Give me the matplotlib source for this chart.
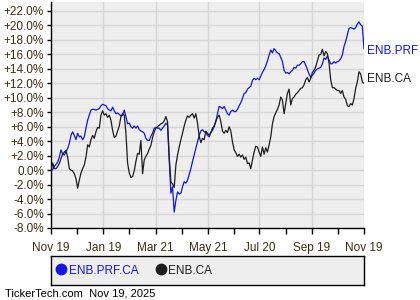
import matplotlib
matplotlib.use("Agg")
import matplotlib.pyplot as plt
from matplotlib.lines import Line2D
import pandas as pd

plt.rcParams['font.family'] = ['Liberation Sans', 'DejaVu Sans']

start_date = "2024-11-19"
end_date = "2025-11-19"

prf_values = [
    -0.2, 0.1, 0.5, 0.8, 1.1, 1.8, 2.8, 2.2, 2.1, 2.5,
    3.0, 3.7, 4.8, 5.3, 4.8, 4.2, 5.1, 4.6, 4.7, 4.2,
    4.6, 5.8, 6.9, 7.6, 8.3, 8.4, 8.4, 8.3, 8.4, 8.5,
    8.9, 9.1, 9.0, 8.9, 8.5, 8.3, 8.2, 8.7, 8.2, 7.8,
    7.9, 7.7, 7.5, 7.6, 8.3, 7.4, 6.4, 6.5, 6.0, 5.8,
    6.1, 5.8, 6.1, 5.6, 5.4, 5.3, 5.1, 4.4, 4.1, 4.1,
    4.7, 5.1, 5.8, 5.9, 5.8, 5.8, 5.5, 5.8, 6.1, 6.5,
    6.2, 1.4, -3.2, -2.3, -5.8, -4.2, -3.0, -3.3, -3.2, -2.3,
    -1.6, -1.8, -1.4, -0.6, 0.2, 1.2, 2.1, 3.0, 3.9, 4.8,
    5.4, 5.6, 5.3, 5.2, 4.8, 4.6, 5.2, 5.5, 6.0, 6.7,
    7.8, 8.8, 8.7, 8.5, 8.8, 8.3, 7.8, 7.6, 8.1, 8.3,
    8.1, 8.1, 8.4, 8.9, 9.3, 9.9, 10.6, 10.7, 11.2, 11.4,
    11.6, 12.4, 12.7, 12.5, 12.7, 12.5, 13.0, 13.5, 13.9, 14.4,
    15.1, 15.9, 16.6, 16.2, 16.8, 16.5, 16.2, 16.1, 15.6, 15.0,
    13.8, 13.4, 13.5, 13.3, 13.6, 13.8, 14.2, 14.1, 14.5, 14.5,
    14.7, 15.0, 15.0, 14.5, 13.9, 13.3, 12.8, 13.1, 13.4, 13.8,
    14.0, 14.1, 14.2, 14.7, 15.5, 15.3, 15.8, 15.2, 14.7, 14.7,
    15.0, 14.8, 15.0, 15.1, 15.4, 15.9, 17.1, 17.8, 18.7, 19.6,
    19.7, 19.6, 19.5, 19.7, 20.2, 20.5, 20.1, 19.9, 16.8,
]

ca_values = [
    -0.2, 1.0, 0.2, 0.2, 0.5, 0.9, 1.6, 2.2, 2.5, 2.7,
    1.8, 0.2, 0.0, -0.1, -0.5, -1.2, -2.5, -1.4, -0.4, 0.2,
    0.7, 1.8, 3.5, 3.2, 4.2, 4.8, 4.4, 5.3, 5.9, 5.8,
    7.6, 8.2, 7.6, 7.8, 7.3, 7.6, 6.9, 5.5, 4.5, 4.7,
    5.4, 6.1, 7.4, 7.8, 7.6, 5.1, 1.0, -0.4, -1.0, -0.9,
    -0.1, 1.2, 2.3, 2.2, 4.1, -0.5, 1.4, 1.9, 2.3, 2.9,
    3.4, 4.5, 5.3, 5.8, 6.0, 6.2, 6.4, 6.5, 6.8, 7.4,
    6.7, 1.8, -1.6, -1.9, -2.4, 0.7, 2.1, 3.2, 4.2, 5.1,
    6.1, 6.9, 7.5, 7.3, 7.6, 7.8, 7.2, 7.8, 6.5, 4.7,
    3.8, 4.4, 4.2, 5.4, 5.1, 4.8, 5.2, 5.8, 6.1, 6.8,
    7.3, 7.6, 6.7, 5.4, 5.1, 5.5, 5.2, 6.0, 5.4, 3.9,
    2.8, 2.4, 1.9, 2.2, 1.8, 2.1, 1.5, 1.8, 0.9, 1.0,
    0.2, 1.4, 2.5, 3.3, 3.2, 2.5, 1.9, 3.2, 2.2, 3.1,
    2.5, 3.5, 4.6, 6.4, 7.4, 7.9, 8.4, 9.0, 10.1, 9.7,
    7.8, 9.2, 10.6, 11.2, 9.0, 9.9, 10.1, 10.5, 10.7, 11.0,
    11.3, 11.4, 11.8, 12.5, 12.8, 12.2, 12.7, 13.5, 13.8, 14.3,
    15.1, 15.9, 16.0, 16.7, 15.8, 16.4, 16.1, 14.8, 12.5, 11.4,
    11.4, 11.2, 11.0, 11.0, 10.6, 11.0, 10.1, 9.8, 8.9, 8.8,
    9.2, 9.0, 9.9, 11.3, 12.2, 13.6, 13.3, 12.2, 12.0,
]

series_names = ["ENB.PRF.CA", "ENB.CA"]
end_labels = ["ENB.PRF", "ENB.CA"]
tick_dates = ["2024-11-19", "2025-01-19", "2025-03-21", "2025-05-21",
              "2025-07-20", "2025-09-19", "2025-11-19"]
tick_labels = ["Nov 19", "Jan 19", "Mar 21", "May 21", "Jul 20", "Sep 19", "Nov 19"]
y_ticks = list(range(-8, 23, 2))
footer = "TickerTech.com  Nov 19, 2025"

blue = "#1414e6"
black = "#1e1e1e"
txt = "#3a2e14"

dates = pd.date_range(start_date, end_date, periods=len(prf_values))

fig = plt.figure(figsize=(4.2, 3.0), dpi=100)
ax = fig.add_axes([51/420, 1-228/300, 313/420, 226/300])
ax.set_facecolor("#eeeeee")

ax.plot(dates, prf_values, color=blue, lw=0.9, zorder=3)
ax.plot(dates, ca_values, color=black, lw=0.9, zorder=3)

ax.set_xlim(pd.Timestamp(start_date), pd.Timestamp(end_date))
ax.set_ylim(-8, 23.24)

td = pd.to_datetime(tick_dates)
ax.set_xticks(td)
ax.set_xticklabels(tick_labels)
mids = td[:-1] + (td[1:] - td[:-1]) / 2
ax.set_xticks(mids, minor=True)
ax.set_yticks(y_ticks)
ax.set_yticklabels([("+" if v > 0 else "") + f"{v:.1f}%" for v in y_ticks])

ax.grid(True, which="major", color="#d6d6d6", lw=1, zorder=0)
ax.set_axisbelow(True)
for s in ["top", "right"]:
    ax.spines[s].set_visible(False)
for s in ["left", "bottom"]:
    ax.spines[s].set_color("black")
    ax.spines[s].set_linewidth(1)

ax.tick_params(axis="y", which="major", length=3, width=1, colors="black",
               labelcolor=txt, labelsize=8.5, pad=2)
ax.tick_params(axis="x", which="both", length=4, width=1, colors="black",
               labelcolor=txt, labelsize=8.5, pad=6)

ax.annotate(end_labels[0], xy=(dates[-1], prf_values[-1]), xytext=(3, -2),
            textcoords="offset pixels", color=blue, fontsize=8.5,
            va="center", ha="left", annotation_clip=False)
ax.annotate(end_labels[1], xy=(dates[-1], ca_values[-1]), xytext=(3, 4),
            textcoords="offset pixels", color=black, fontsize=8.5,
            va="center", ha="left", annotation_clip=False)

leg_ax = fig.add_axes([51/420, 1-285/300, 313/420, 29/300])
leg_ax.set_facecolor("#eeeeee")
leg_ax.set_xticks([])
leg_ax.set_yticks([])
for s in leg_ax.spines.values():
    s.set_color("black")
    s.set_linewidth(1)
handles = [Line2D([], [], ls="none", marker="o", markersize=7.5, color=blue),
           Line2D([], [], ls="none", marker="o", markersize=7.5, color=black)]
leg_ax.legend(handles, series_names, loc="center left", frameon=False, ncol=2,
              fontsize=8.5, handlelength=0.8, handletextpad=0.25,
              columnspacing=1.5, borderaxespad=0.15, borderpad=0.3,
              labelcolor=[blue, black])

fig.text(5/420, 1-294/300, footer, fontsize=8, color="black", va="center", ha="left")

fig.savefig("out.png", dpi=100)
